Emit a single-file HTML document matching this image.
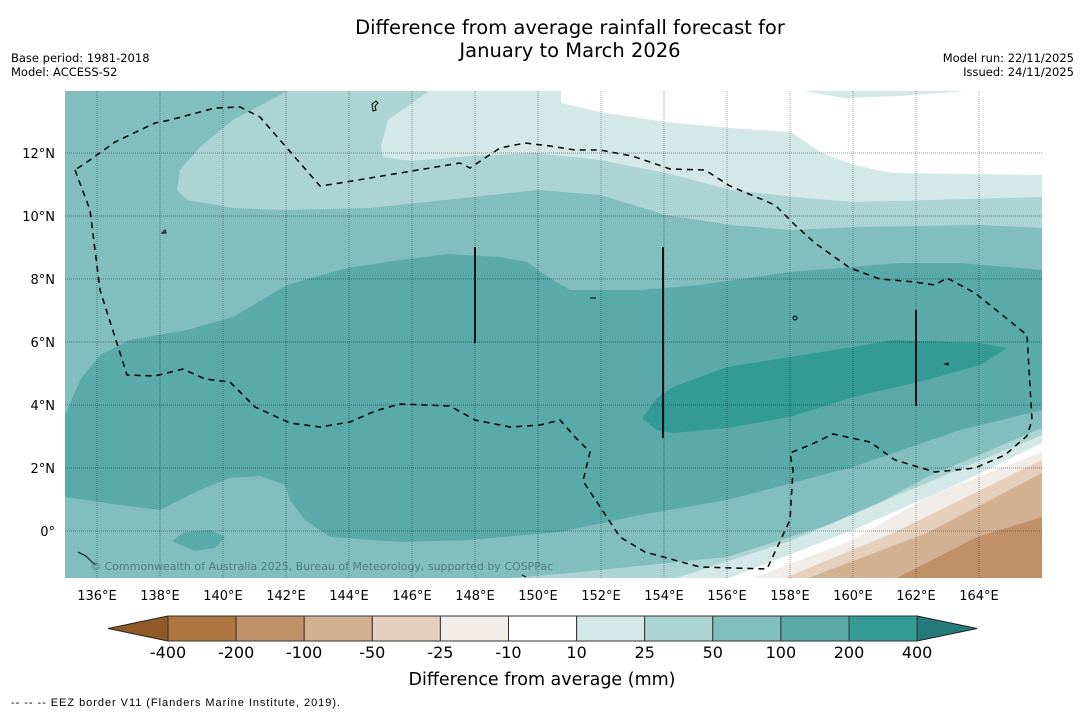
<!DOCTYPE html>
<html><head><meta charset="utf-8"><style>
body{margin:0;background:#fff;width:1085px;height:713px;overflow:hidden;font-family:"DejaVu Sans","Liberation Sans",sans-serif}
svg{display:block}
</style></head><body>
<svg id="chart" width="1085" height="713" viewBox="0 0 1085 713" font-family="DejaVu Sans, Liberation Sans, sans-serif">
<text x="570" y="34" font-size="19.5" text-anchor="middle">Difference from average rainfall forecast for</text>
<text x="570" y="57" font-size="19.5" text-anchor="middle">January to March 2026</text>
<text x="11" y="62" font-size="11.5">Base period: 1981-2018</text>
<text x="11" y="76" font-size="11.5">Model: ACCESS-S2</text>
<text x="1074" y="62" font-size="11.5" text-anchor="end">Model run: 22/11/2025</text>
<text x="1074" y="76" font-size="11.5" text-anchor="end">Issued: 24/11/2025</text>
<defs><clipPath id="mapclip"><rect x="65" y="91" width="977" height="487"/></clipPath></defs>
<g clip-path="url(#mapclip)">
<rect x="65" y="91" width="977" height="487" fill="#82bebe"/>
<polygon fill="#acd4d4" points="287,91 1042,91 1042,228 979,225 854,227 791,230 731,225 666,215 600,195 538,190 370,208 283,210 233,208 187,200 177,190 180,170 200,147 233,120"/>
<polygon fill="#d4e8e8" points="429,91 1042,91 1042,197 854,202 805,198 731,190 666,173 600,160 535,153 470,156 411,161 383,157 381,145 388,120"/>
<polygon fill="#ffffff" points="561,91 1042,91 1042,175 892,173 854,165 822,153 791,132 731,128 666,122 600,112 561,103"/>
<polygon fill="#d4e8e8" points="803,91 966,91 900,96 845,98"/>
<polygon fill="#5aaaaa" points="65,415 80,380 100,355 130,340 187,330 233,317 287,285 347,268 400,260 448,254 500,257 527,262 545,275 570,290 640,290 700,285 790,272 900,263 960,263 1042,270 1042,410 960,430 853,467 727,500 640,515 560,532 470,540 400,542 330,537 305,520 290,500 285,485 260,476 230,478 200,490 160,510 120,505 65,497"/>
<polygon fill="#5aaaaa" points="172,541 185,532 210,530 225,537 215,548 195,551"/>
<polygon fill="#339a96" points="642,418 657,398 673,387 727,367 790,357 853,347 893,340 980,343 1007,348 980,365 927,380 853,397 790,417 727,428 673,433 657,430"/>
<polygon fill="#acd4d4" points="460,582 560,574 727,557 853,517 927,477 1042,428 1050,600"/>
<polygon fill="#d4e8e8" points="670,580 793,540 893,497 1042,435 1050,600"/>
<polygon fill="#ffffff" points="724,580 853,530 960,483 1042,443 1050,600"/>
<polygon fill="#f2ece8" points="747,580 853,540 927,497 1042,452 1050,600"/>
<polygon fill="#e5cfbd" points="780,580 893,533 1042,460 1050,600"/>
<polygon fill="#d2b092" points="803,580 927,533 1042,473 1050,600"/>
<polygon fill="#c09068" points="893,580 977,537 1042,517 1050,600"/>
<g id="grid"></g>
<polyline fill="none" stroke="#000" stroke-width="1.5" stroke-dasharray="6,5" points="75,170 90,210 100,290 127,375 155,376 183,369 205,379 230,382 255,407 290,423 320,427 350,422 375,411 400,404 450,406 475,420 510,427 540,425 560,420 575,437 590,452 583,481 620,537 645,552 700,567 767,569 790,520 793,470 790,453 810,445 833,434 870,442 895,460 935,472 975,468 1005,455 1027,436 1032,420 1027,335 975,293 947,278 935,285 915,282 880,279 850,268 815,243 795,225 775,205 730,186 705,170 670,169 650,162 632,156 600,150 575,150 550,146 525,143 500,148 488,156 470,168 460,163 400,173 340,183 320,186 260,117 240,107 215,108 170,120 155,123 115,142 90,160 75,170"/>
<line x1="475" y1="247" x2="475" y2="343" stroke="#111" stroke-width="2"/>
<line x1="663" y1="247" x2="663" y2="438" stroke="#111" stroke-width="2"/>
<line x1="916" y1="310" x2="916" y2="406" stroke="#111" stroke-width="2"/>
<g fill="none" stroke="#000" stroke-width="1">
<path d="M372,104 l4,-3 l2,2 l-3,3 l1,4 l-3,1z"/>
<path d="M162,233 l3,-3 l1,3z"/><path d="M590,298 l6,0"/><path d="M795,316 a2,2 0 1 0 0.1,0"/>
<path d="M945,364 l3,-1 l0,2z"/><path d="M78,552 l8,4 l6,6 l4,3"/><path d="M522,575 l4,2"/>
</g>
<text x="90" y="570" font-size="11" fill="#4f7e7e">© Commonwealth of Australia 2025, Bureau of Meteorology, supported by COSPPac</text>
</g>
<g id="ticks"></g>
<g id="cbar"></g>
<text x="542" y="685" font-size="17.5" text-anchor="middle">Difference from average (mm)</text>
<text x="11" y="706" font-size="11" font-family="Liberation Sans, sans-serif" textLength="329">--  --  -- EEZ border V11 (Flanders Marine Institute, 2019).</text>
</svg>
<script>
const lonTicks=[136,138,140,142,144,146,148,150,152,154,156,158,160,162,164];
const latTicks=[0,2,4,6,8,10,12];
const cbarLevels=[-400,-200,-100,-50,-25,-10,10,25,50,100,200,400];
const cbarColors=["#ad7640","#c09068","#d2b092","#e5cfbd","#f2ece8","#ffffff","#d4e8e8","#acd4d4","#82bebe","#5aaaaa","#339a96"];
const NS="http://www.w3.org/2000/svg";
function xLon(l){return 97+(l-136)*31.5;}
function yLat(l){return 531-l*31.5;}
function mk(t,a,p){const e=document.createElementNS(NS,t);for(const k in a)e.setAttribute(k,a[k]);p.appendChild(e);return e;}
const grid=document.getElementById('grid'),ticks=document.getElementById('ticks');
lonTicks.forEach(l=>{
  const g=mk('line',{x1:xLon(l),x2:xLon(l),y1:91,y2:578,stroke:'#000','stroke-opacity':0.35,'stroke-width':1,'stroke-dasharray':'1,1'},grid);
  
  
  const t=mk('text',{x:xLon(l),y:600,'font-size':13,'text-anchor':'middle'},ticks);
  t.textContent=l+'°E';
  
  
});
latTicks.forEach(l=>{
  const g=mk('line',{x1:65,x2:1042,y1:yLat(l),y2:yLat(l),stroke:'#000','stroke-opacity':0.4,'stroke-width':1,'stroke-dasharray':'1,1'},grid);
  
  
  const t=mk('text',{x:55,y:yLat(l)+5,'font-size':13,'text-anchor':'end'},ticks);
  t.textContent=l===0?'0°':l+'°N';
  
  
});
const cb=document.getElementById('cbar');
const cx0=168,cw=68.1,cy=616,ch=25;
const lt=mk('polygon',{points:`108,${cy+ch/2} ${cx0},${cy} ${cx0},${cy+ch}`,fill:'#8f5a28',stroke:'#222','stroke-width':1},cb);


const x1=cx0+cw*cbarColors.length;
const rt=mk('polygon',{points:`${x1},${cy} ${x1+60},${cy+ch/2} ${x1},${cy+ch}`,fill:'#237c79',stroke:'#222','stroke-width':1},cb);


cbarColors.forEach((c,i)=>{
  const r=mk('rect',{x:cx0+i*cw,y:cy,width:cw,height:ch,fill:c,stroke:'#333','stroke-width':1},cb);
  
  
});
cbarLevels.forEach((v,i)=>{
  const t=mk('text',{x:cx0+i*cw,y:658,'font-size':16,'text-anchor':'middle'},cb);
  t.textContent=v;
  
  
});
</script>
</body></html>
